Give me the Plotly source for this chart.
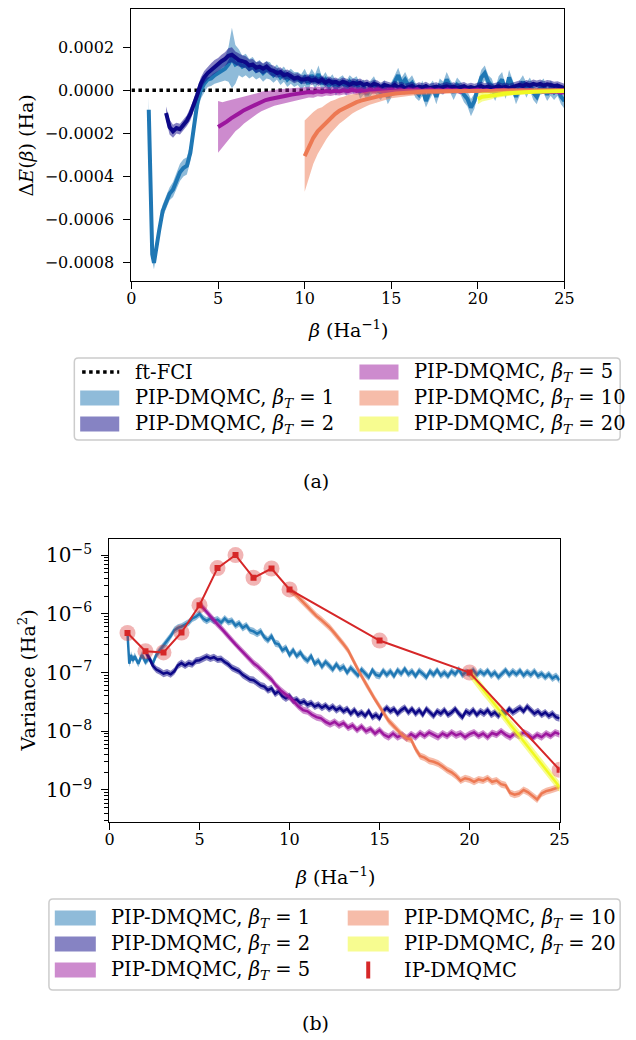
import numpy as np
import plotly.graph_objects as go

W, H = 636, 1040
FONT = "DejaVu Serif, serif"
FS_TICK = 16
FS_LEG = 19.5
FS_TITLE = 19

# ---------------- data: panel (a), energy error in units of 1e-4 Ha ----------------
beta_fci = [0.0, 25.0]
dE_fci = [0.0, 0.0]

beta_bt1 = np.concatenate([[1.0, 1.1, 1.2, 1.3], np.arange(1.4, 25.001, 0.2)])
dE_bt1 = [-0.9, -4.5, -7.6, -8.0,
          -7.4, -6.5, -5.6, -5.2, -4.8, -4.6, -4.2, -3.8, -3.6, -3.5,
          -2.9, -1.8, -0.6, 0.0, 0.3, 0.5, 0.55, 0.7, 0.8, 0.9,
          1.0, 1.2, 1.5, 1.2, 1.3, 1.1, 1.2, 1.0, 1.1, 0.9,
          1.0, 0.8, 0.95, 0.9, 0.7, 0.85, 0.6, 0.75, 0.5, 0.65,
          0.5, 0.55, 0.4, 0.6, 0.3, 0.7, 0.4, 0.75, 0.3, 0.5,
          0.2, 0.45, 0.1, 0.3, 0.35, 0.1, 0.4, 0.2, 0.35, -0.05,
          0.15, -0.2, 0.1, 0.3, 0.0, -0.1, 0.15, -0.3, 0.0, 0.4,
          0.7, 0.3, 0.5, 0.2, 0.35, 0.0, -0.2, 0.1, -0.5, -0.1,
          0.15, -0.3, 0.2, 0.1, 0.5, 0.2, -0.1, 0.25, 0.1, -0.2,
          -0.4, -0.8, -0.5, 0.1, 0.6, 0.8, 0.4, 0.2, -0.2, 0.3,
          0.5, -0.1, 0.6, 0.2, -0.3, 0.1, 0.4, 0.0, 0.3, -0.1,
          -0.3, 0.1, 0.2, -0.2, 0.1, -0.1, 0.05, -0.3, -0.5]
err_bt1 = [0.6, 0.4, 0.3, 0.3,
           0.3, 0.3, 0.3, 0.3, 0.3, 0.35, 0.35, 0.4, 0.4, 0.4,
           0.4, 0.45, 0.45, 0.4, 0.4, 0.35, 0.35, 0.4, 0.45, 0.5,
           0.55, 0.8, 1.4, 0.9, 0.6, 0.5, 0.5, 0.45, 0.45, 0.4,
           0.4, 0.4, 0.4, 0.4, 0.35, 0.35, 0.35, 0.35, 0.35, 0.35,
           0.35, 0.3, 0.35, 0.4, 0.35, 0.3, 0.35, 0.4, 0.3, 0.35,
           0.35, 0.3, 0.35, 0.3, 0.35, 0.35, 0.3, 0.35, 0.3, 0.35,
           0.35, 0.3, 0.35, 0.35, 0.3, 0.35, 0.3, 0.35, 0.35, 0.3,
           0.35, 0.3, 0.35, 0.3, 0.35, 0.35, 0.3, 0.35, 0.3, 0.35,
           0.3, 0.35, 0.35, 0.3, 0.35, 0.3, 0.35, 0.35, 0.3, 0.35,
           0.35, 0.4, 0.35, 0.3, 0.35, 0.35, 0.3, 0.35, 0.3, 0.35,
           0.35, 0.3, 0.35, 0.3, 0.35, 0.35, 0.3, 0.35, 0.3, 0.35,
           0.35, 0.3, 0.35, 0.3, 0.35, 0.35, 0.3, 0.35, 0.35]

beta_bt2 = np.arange(2.0, 25.001, 0.2)
dE_bt2 = [-1.05, -1.7, -1.9, -1.75, -1.8, -1.6, -1.4, -1.1, -0.7, -0.2,
          0.3, 0.6, 0.8, 0.95, 1.1, 1.2, 1.35, 1.45, 1.6, 1.65,
          1.5, 1.4, 1.35, 1.3, 1.15, 1.2, 1.05, 1.1, 1.0, 1.1,
          0.95, 0.9, 0.8, 0.85, 0.7, 0.75, 0.65, 0.55, 0.6, 0.5,
          0.5, 0.55, 0.45, 0.5, 0.4, 0.5, 0.35, 0.45, 0.35, 0.4,
          0.3, 0.4, 0.35, 0.25, 0.35, 0.3, 0.35, 0.25, 0.3, 0.2,
          0.3, 0.25, 0.15, 0.25, 0.2, 0.15, 0.25, 0.15, 0.2, 0.1,
          0.15, 0.2, 0.1, 0.17, 0.13, 0.2, 0.1, 0.15, 0.17, 0.11,
          0.15, 0.19, 0.13, 0.17, 0.1, 0.15, 0.19, 0.11, 0.15, 0.1,
          0.15, 0.2, 0.13, 0.17, 0.11, 0.15, 0.18, 0.12, 0.16, 0.1,
          0.15, 0.2, 0.25, 0.2, 0.28, 0.22, 0.3, 0.25, 0.3, 0.22,
          0.28, 0.25, 0.2, 0.22, 0.15, 0.1]
err_bt2 = [0.3, 0.35, 0.3, 0.25, 0.25, 0.25, 0.25, 0.3, 0.3, 0.3,
           0.3, 0.3, 0.3, 0.3, 0.3, 0.3, 0.3, 0.32, 0.35, 0.35,
           0.3, 0.3, 0.28, 0.28, 0.28, 0.25, 0.25, 0.25, 0.25, 0.25,
           0.25, 0.25, 0.22, 0.22, 0.22, 0.22, 0.22, 0.22, 0.2, 0.2,
           0.2, 0.2, 0.2, 0.2, 0.2, 0.2, 0.2, 0.2, 0.2, 0.2,
           0.2, 0.2, 0.2, 0.2, 0.2, 0.2, 0.2, 0.2, 0.2, 0.2,
           0.2, 0.2, 0.2, 0.2, 0.2, 0.2, 0.2, 0.2, 0.2, 0.2,
           0.2, 0.2, 0.2, 0.2, 0.2, 0.2, 0.2, 0.2, 0.2, 0.2,
           0.2, 0.2, 0.2, 0.2, 0.2, 0.2, 0.2, 0.2, 0.2, 0.2,
           0.2, 0.2, 0.2, 0.2, 0.2, 0.2, 0.2, 0.2, 0.2, 0.2,
           0.2, 0.2, 0.2, 0.2, 0.2, 0.2, 0.2, 0.2, 0.2, 0.2,
           0.2, 0.2, 0.2, 0.2, 0.2, 0.2]

beta_bt5 = np.arange(5.0, 25.001, 0.25)
dE_bt5 = [-1.7, -1.6, -1.45, -1.3, -1.15, -1.05, -0.92, -0.82, -0.72, -0.62,
          -0.52, -0.45, -0.4, -0.35, -0.3, -0.27, -0.24, -0.2, -0.17, -0.15,
          -0.12, -0.08, -0.1, -0.05, -0.08, -0.03, -0.06, -0.02, -0.05, 0.0,
          -0.04, 0.02, -0.03, 0.0, -0.05, 0.02, -0.02, 0.03, -0.04, 0.0,
          0.02, -0.03, 0.01, -0.05, 0.02, -0.02, 0.03, -0.04, 0.0, 0.02,
          -0.03, 0.01, -0.04, 0.02, -0.02, 0.0, -0.05, 0.01, -0.03, 0.0,
          0.02, -0.03, 0.0, -0.04, 0.01, -0.02, 0.02, -0.03, 0.0, -0.04,
          0.01, -0.02, 0.0, -0.05, -0.02, -0.06, -0.04, -0.08, -0.05, -0.1,
          -0.08]
err_bt5 = [1.2, 1.05, 0.95, 0.85, 0.75, 0.68, 0.62, 0.56, 0.52, 0.48,
           0.45, 0.42, 0.4, 0.37, 0.35, 0.33, 0.31, 0.3, 0.28, 0.27,
           0.26, 0.25, 0.24, 0.23, 0.22, 0.21, 0.2, 0.2, 0.19, 0.19,
           0.18, 0.18, 0.17, 0.17, 0.17, 0.16, 0.16, 0.16, 0.15, 0.15,
           0.15, 0.15, 0.14, 0.14, 0.14, 0.14, 0.13, 0.13, 0.13, 0.13,
           0.13, 0.12, 0.12, 0.12, 0.12, 0.12, 0.12, 0.11, 0.11, 0.11,
           0.11, 0.11, 0.11, 0.1, 0.1, 0.1, 0.1, 0.1, 0.1, 0.1,
           0.1, 0.1, 0.1, 0.1, 0.1, 0.1, 0.1, 0.1, 0.1, 0.1,
           0.1]

beta_bt10 = np.arange(10.0, 25.001, 0.25)
dE_bt10 = [-3.05, -2.6, -2.2, -1.9, -1.7, -1.45, -1.25, -1.1, -0.95, -0.85,
           -0.72, -0.63, -0.55, -0.48, -0.42, -0.36, -0.32, -0.28, -0.24, -0.2,
           -0.17, -0.15, -0.13, -0.11, -0.1, -0.09, -0.08, -0.07, -0.06, -0.06,
           -0.05, -0.05, -0.04, -0.04, -0.04, -0.03, -0.03, -0.03, -0.03, -0.02,
           -0.02, -0.02, -0.02, -0.02, -0.02, -0.01, -0.01, -0.01, -0.01, -0.01,
           -0.01, -0.01, -0.01, 0.0, 0.0, 0.0, 0.0, 0.0, 0.0, 0.0,
           0.0]
err_bt10 = [1.65, 1.4, 1.2, 1.05, 0.92, 0.82, 0.74, 0.66, 0.6, 0.55,
            0.5, 0.45, 0.41, 0.37, 0.34, 0.31, 0.28, 0.26, 0.24, 0.22,
            0.2, 0.19, 0.18, 0.17, 0.16, 0.15, 0.14, 0.13, 0.12, 0.12,
            0.11, 0.11, 0.1, 0.1, 0.09, 0.09, 0.09, 0.08, 0.08, 0.08,
            0.07, 0.07, 0.07, 0.07, 0.06, 0.06, 0.06, 0.06, 0.06, 0.06,
            0.05, 0.05, 0.05, 0.05, 0.05, 0.05, 0.05, 0.05, 0.05, 0.05,
            0.05]

beta_bt20 = np.arange(20.0, 25.001, 0.25)
dE_bt20 = [-0.4, -0.3, -0.28, -0.24, -0.2, -0.18, -0.16, -0.14, -0.12, -0.11,
           -0.1, -0.09, -0.08, -0.07, -0.06, -0.05, -0.05, -0.04, -0.04, -0.03,
           -0.03]
err_bt20 = [0.25, 0.22, 0.2, 0.18, 0.16, 0.14, 0.13, 0.12, 0.11, 0.1,
            0.09, 0.08, 0.08, 0.07, 0.07, 0.06, 0.06, 0.05, 0.05, 0.05,
            0.05]
DE_UNIT = 1e-4

# ---------------- data: panel (b), log10 of variance (Ha^2) ----------------
lv_bt1 = [-6.33, -6.85, -6.7, -6.8,
          -6.72, -6.85, -6.7, -6.82, -6.75, -6.85, -6.7, -6.62, -6.55, -6.48,
          -6.38, -6.28, -6.24, -6.22, -6.18, -6.15, -6.08, -6.05, -6.0, -6.08,
          -6.12, -6.08, -6.12, -6.1, -6.15, -6.08, -6.14, -6.12, -6.2, -6.16,
          -6.24, -6.2, -6.28, -6.3, -6.34, -6.3, -6.4, -6.45, -6.38, -6.5,
          -6.52, -6.62, -6.58, -6.7, -6.62, -6.72, -6.66, -6.75, -6.8, -6.72,
          -6.85, -6.8, -6.9, -6.82, -6.88, -6.95, -6.86, -6.94, -6.9, -7.0,
          -6.92, -6.98, -7.05, -6.95, -7.02, -7.08, -6.96, -7.04, -7.06, -6.97,
          -7.04, -6.98, -7.06, -6.96, -7.02, -6.94, -7.03, -6.98, -7.06, -6.97,
          -7.02, -7.08, -6.98, -7.04, -6.96, -7.05, -7.0, -7.06, -6.98, -7.03,
          -6.95, -7.04, -6.99, -7.02, -6.96, -7.04, -6.98, -7.03, -6.97, -7.05,
          -7.0, -7.08, -7.02, -6.96, -7.04, -6.98, -7.03, -6.97, -7.05, -6.99,
          -7.04, -6.98, -7.06, -7.02, -7.08, -7.03, -7.1, -7.06, -7.13]
lv_bt2 = [-6.65, -6.75, -6.88, -6.95, -6.98, -7.02, -7.0, -7.03, -6.98, -6.88,
          -6.84, -6.88, -6.84, -6.86, -6.8, -6.79, -6.76, -6.73, -6.76, -6.74,
          -6.78, -6.77, -6.82, -6.86, -6.92, -6.95, -6.98, -7.04, -7.08, -7.12,
          -7.13, -7.18, -7.22, -7.24, -7.3, -7.27, -7.36, -7.32, -7.4, -7.44,
          -7.4, -7.48, -7.46, -7.52, -7.49, -7.55, -7.52, -7.58, -7.55, -7.6,
          -7.56, -7.62, -7.58, -7.64, -7.6, -7.66, -7.62, -7.7, -7.64, -7.72,
          -7.68, -7.74, -7.66, -7.76, -7.72, -7.78, -7.66, -7.6, -7.66, -7.62,
          -7.7, -7.64, -7.6, -7.68, -7.62, -7.7, -7.64, -7.72, -7.62, -7.68,
          -7.74, -7.66, -7.7, -7.64, -7.72, -7.68, -7.62, -7.7, -7.76, -7.66,
          -7.7, -7.64, -7.72, -7.66, -7.7, -7.64, -7.72, -7.68, -7.74, -7.66,
          -7.7, -7.62, -7.68, -7.64, -7.6, -7.66, -7.58, -7.64, -7.7, -7.66,
          -7.72, -7.68, -7.74, -7.7, -7.76, -7.78]
lv_bt5 = [-5.83, -5.92, -6.0, -6.1, -6.18, -6.26, -6.35, -6.44, -6.52, -6.6,
          -6.68, -6.76, -6.84, -6.9, -6.97, -7.05, -7.12, -7.22, -7.3, -7.36,
          -7.42, -7.5, -7.58, -7.64, -7.66, -7.72, -7.76, -7.78, -7.84, -7.88,
          -7.84, -7.9, -7.86, -7.94, -7.9, -7.98, -7.92, -8.0, -7.96, -8.04,
          -7.98, -8.06, -8.1, -8.04, -8.1, -8.06, -8.12, -8.05, -8.1, -8.03,
          -8.08, -8.02, -8.06, -8.1, -8.04, -8.08, -8.02, -8.07, -8.04, -8.1,
          -8.05, -8.02, -8.08, -8.04, -8.1, -8.03, -8.06, -8.0, -8.06, -8.1,
          -8.04, -8.08, -8.02, -8.06, -8.12, -8.06, -8.1, -8.04, -8.08, -8.02,
          -8.05]
lv_bt10 = [-5.6, -5.65, -5.72, -5.8, -5.88, -5.96, -6.04, -6.1, -6.17, -6.24,
           -6.33, -6.42, -6.52, -6.62, -6.78, -6.92, -7.06, -7.2, -7.33, -7.46,
           -7.58, -7.7, -7.82, -7.9, -7.98, -8.06, -8.12, -8.14, -8.3, -8.42,
           -8.45, -8.5, -8.52, -8.55, -8.6, -8.66, -8.7, -8.76, -8.84, -8.8,
           -8.82, -8.86, -8.82, -8.84, -8.8, -8.86, -8.84, -8.9, -8.92, -9.05,
           -9.08, -9.06, -9.0, -9.04, -9.1, -9.16, -9.06, -9.02, -9.0, -8.98,
           -8.95]
lv_bt20 = [-7.0, -7.1, -7.2, -7.3, -7.39, -7.49, -7.58, -7.68, -7.78, -7.88,
           -7.97, -8.07, -8.17, -8.27, -8.36, -8.46, -8.56, -8.66, -8.75, -8.85,
           -8.95]
band_dex = {"bt1": 0.06, "bt2": 0.06, "bt5": 0.06, "bt10": 0.06, "bt20": 0.09}

beta_ip = [1, 2, 3, 4, 5, 6, 7, 8, 9, 10, 15, 20, 25]
var_ip = [4.7e-7, 2.3e-7, 2.2e-7, 4.8e-7, 1.4e-6, 6.0e-6, 1.0e-5, 4.1e-6,
          5.9e-6, 2.6e-6, 3.5e-7, 1.0e-7, 2.2e-9]

# ---------------- styling ----------------
COL = {"bt1": (31, 119, 180), "bt2": (13, 8, 135), "bt5": (156, 23, 158),
       "bt10": (237, 121, 83), "bt20": (240, 249, 33)}
RED = (214, 39, 40)
BT = {"bt1": 1, "bt2": 2, "bt5": 5, "bt10": 10, "bt20": 20}


def rgba(c, a):
    return f"rgba({c[0]},{c[1]},{c[2]},{a})"


def label(key):
    return f"PIP-DMQMC, <i>β<sub>T</sub></i> = {BT[key]}"


def px_x(p):
    return p / W


def px_y(p):
    return 1 - p / H


fig = go.Figure()

# panel (a)
fig.add_trace(go.Scatter(x=beta_fci, y=dE_fci, mode="lines", xaxis="x", yaxis="y",
                         line=dict(color="black", width=3.5, dash="dot"),
                         showlegend=False, hoverinfo="skip"))

series_a = [("bt1", beta_bt1, dE_bt1, err_bt1),
            ("bt2", beta_bt2, dE_bt2, err_bt2),
            ("bt5", beta_bt5, dE_bt5, err_bt5),
            ("bt10", beta_bt10, dE_bt10, err_bt10),
            ("bt20", beta_bt20, dE_bt20, err_bt20)]
for key, x, y, e in series_a:
    x = np.asarray(x, float)
    y = np.asarray(y, float) * DE_UNIT
    e = np.asarray(e, float) * DE_UNIT
    assert len(x) == len(y) == len(e), key
    fig.add_trace(go.Scatter(x=np.concatenate([x, x[::-1]]),
                             y=np.concatenate([y + e, (y - e)[::-1]]),
                             fill="toself", fillcolor=rgba(COL[key], 0.5), mode="lines",
                             line=dict(width=0), xaxis="x", yaxis="y",
                             showlegend=False, hoverinfo="skip"))
    fig.add_trace(go.Scatter(x=x, y=y, mode="lines", xaxis="x", yaxis="y",
                             line=dict(color=rgba(COL[key], 1), width=4),
                             showlegend=False, hoverinfo="skip"))

# panel (b)
series_b = [("bt1", beta_bt1, lv_bt1), ("bt2", beta_bt2, lv_bt2),
            ("bt5", beta_bt5, lv_bt5), ("bt10", beta_bt10, lv_bt10),
            ("bt20", beta_bt20, lv_bt20)]
for key, x, lv in series_b:
    x = np.asarray(x, float)
    v = 10.0 ** np.asarray(lv, float)
    assert len(x) == len(v), key
    f = 10.0 ** band_dex[key]
    fig.add_trace(go.Scatter(x=np.concatenate([x, x[::-1]]),
                             y=np.concatenate([v * f, (v / f)[::-1]]),
                             fill="toself", fillcolor=rgba(COL[key], 0.5), mode="lines",
                             line=dict(width=0), xaxis="x2", yaxis="y2",
                             showlegend=False, hoverinfo="skip"))
    fig.add_trace(go.Scatter(x=x, y=v, mode="lines", xaxis="x2", yaxis="y2",
                             line=dict(color=rgba(COL[key], 1), width=2.5),
                             showlegend=False, hoverinfo="skip"))

fig.add_trace(go.Scatter(x=beta_ip, y=var_ip, mode="markers", xaxis="x2", yaxis="y2",
                         marker=dict(symbol="circle", size=16, color=rgba(RED, 0.35)),
                         showlegend=False, hoverinfo="skip"))
fig.add_trace(go.Scatter(x=beta_ip, y=var_ip, mode="lines+markers", xaxis="x2", yaxis="y2",
                         line=dict(color=rgba(RED, 1), width=2),
                         marker=dict(symbol="square", size=6, color=rgba(RED, 1)),
                         showlegend=False, hoverinfo="skip"))

# ---------------- legends (drawn as boxes, swatches and text) ----------------
shapes = []
annotations = []


def rounded_box(x0, y0, x1, y1, r=4):
    X = lambda p: f"{px_x(p):.5f}"
    Y = lambda p: f"{px_y(p):.5f}"
    path = (f"M{X(x0 + r)},{Y(y0)} L{X(x1 - r)},{Y(y0)} Q{X(x1)},{Y(y0)} {X(x1)},{Y(y0 + r)} "
            f"L{X(x1)},{Y(y1 - r)} Q{X(x1)},{Y(y1)} {X(x1 - r)},{Y(y1)} "
            f"L{X(x0 + r)},{Y(y1)} Q{X(x0)},{Y(y1)} {X(x0)},{Y(y1 - r)} "
            f"L{X(x0)},{Y(y0 + r)} Q{X(x0)},{Y(y0)} {X(x0 + r)},{Y(y0)} Z")
    return dict(type="path", xref="paper", yref="paper", path=path,
                line=dict(color="#cccccc", width=1.5), fillcolor="white", layer="below")


def build_legend(box, patch_x, patch_w, text_x, rows_y, columns):
    shapes.append(rounded_box(*box))
    for ci, col in enumerate(columns):
        for ri, (kind, key, text) in enumerate(col):
            yc = rows_y[ri]
            x0 = patch_x[ci]
            if kind == "patch":
                shapes.append(dict(type="rect", xref="paper", yref="paper",
                                   x0=px_x(x0), x1=px_x(x0 + patch_w),
                                   y0=px_y(yc + 7.5), y1=px_y(yc - 7.5),
                                   fillcolor=rgba(COL[key], 0.5), line=dict(width=0)))
            elif kind == "dots":
                shapes.append(dict(type="line", xref="paper", yref="paper",
                                   x0=px_x(x0 + 2), x1=px_x(x0 + patch_w),
                                   y0=px_y(yc), y1=px_y(yc),
                                   line=dict(color="black", width=3.5, dash="dot")))
            elif kind == "bar":
                xm = x0 + patch_w / 2
                shapes.append(dict(type="line", xref="paper", yref="paper",
                                   x0=px_x(xm), x1=px_x(xm),
                                   y0=px_y(yc + 8.5), y1=px_y(yc - 8.5),
                                   line=dict(color=rgba(RED, 1), width=4)))
            annotations.append(dict(text=text, x=px_x(text_x[ci]), y=px_y(yc),
                                    xref="paper", yref="paper", showarrow=False,
                                    xanchor="left", yanchor="middle",
                                    font=dict(family=FONT, size=FS_LEG, color="black")))


build_legend(box=(71, 358, 630, 440), patch_x=[77, 363], patch_w=40,
             text_x=[131, 417], rows_y=[372, 398, 424],
             columns=[[("dots", None, "ft-FCI"),
                       ("patch", "bt1", label("bt1")),
                       ("patch", "bt2", label("bt2"))],
                      [("patch", "bt5", label("bt5")),
                       ("patch", "bt10", label("bt10")),
                       ("patch", "bt20", label("bt20"))]])
build_legend(box=(45, 899, 630, 990), patch_x=[51, 351], patch_w=42,
             text_x=[107, 407], rows_y=[918, 944, 970],
             columns=[[("patch", "bt1", label("bt1")),
                       ("patch", "bt2", label("bt2")),
                       ("patch", "bt5", label("bt5"))],
                      [("patch", "bt10", label("bt10")),
                       ("patch", "bt20", label("bt20")),
                       ("bar", None, "IP-DMQMC")]])

axis_common = dict(showline=True, mirror=True, linecolor="black", linewidth=1.3,
                   ticks="outside", ticklen=7, tickwidth=1.2, tickcolor="black",
                   showgrid=False, zeroline=False,
                   tickfont=dict(family=FONT, size=FS_TICK, color="black"))

title_font = dict(family=FONT, size=FS_TITLE, color="black")
annotations += [
    dict(text="<i>β</i> (Ha<sup>−1</sup>)", x=px_x(351), y=px_y(329), xref="paper",
         yref="paper", showarrow=False, xanchor="center", yanchor="middle", font=title_font),
    dict(text="Δ<i>E</i>(<i>β</i>) (Ha)", x=px_x(22), y=px_y(145), xref="paper",
         yref="paper", showarrow=False, textangle=-90, xanchor="center", yanchor="middle",
         font=title_font),
    dict(text="(a)", x=0.5, y=px_y(481), xref="paper", yref="paper", showarrow=False,
         xanchor="center", yanchor="middle", font=title_font),
    dict(text="<i>β</i> (Ha<sup>−1</sup>)", x=px_x(337.5), y=px_y(876), xref="paper",
         yref="paper", showarrow=False, xanchor="center", yanchor="middle", font=title_font),
    dict(text="Variance (Ha<sup>2</sup>)", x=px_x(23), y=px_y(680), xref="paper",
         yref="paper", showarrow=False, textangle=-90, xanchor="center", yanchor="middle",
         font=title_font),
    dict(text="(b)", x=0.5, y=px_y(1023), xref="paper", yref="paper", showarrow=False,
         xanchor="center", yanchor="middle", font=title_font),
]

fig.update_layout(
    width=W, height=H, margin=dict(l=0, r=0, t=0, b=0),
    paper_bgcolor="white", plot_bgcolor="white", showlegend=False,
    font=dict(family=FONT, size=FS_TITLE, color="black"),
    xaxis=dict(domain=[px_x(129.5), px_x(573)], anchor="y", range=[0, 25],
               tickvals=[0, 5, 10, 15, 20, 25], ticklabelstandoff=-4, **axis_common),
    yaxis=dict(domain=[px_y(281), px_y(9)], anchor="x", range=[-0.000884, 0.000377],
               tickvals=[-0.0008, -0.0006, -0.0004, -0.0002, 0, 0.0002],
               tickformat=".4f", ticklabelstandoff=6, **axis_common),
    xaxis2=dict(domain=[px_x(107), px_x(568)], anchor="y2", range=[0, 25],
                tickvals=[0, 5, 10, 15, 20, 25], ticklabelstandoff=-4, **axis_common),
    yaxis2=dict(domain=[px_y(822), px_y(539)], anchor="x2", type="log",
                range=[-9.545, -4.727], dtick=1, exponentformat="power",
                showexponent="all", ticklabelstandoff=6,
                minor=dict(ticks="outside", ticklen=4, tickwidth=1, tickcolor="black",
                           dtick="D1", showgrid=False),
                **axis_common),
    shapes=shapes,
    annotations=annotations,
)

fig.write_html("out.html")
